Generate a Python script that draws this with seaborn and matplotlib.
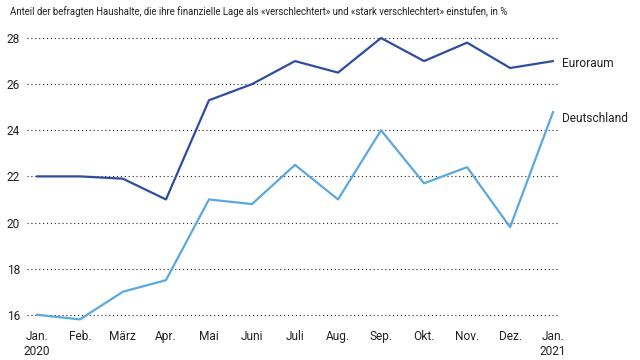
import numpy as np
import pandas as pd
import matplotlib
matplotlib.use("Agg")
import matplotlib.pyplot as plt
import seaborn as sns

months = ["Jan.\n2020", "Feb.", "März", "Apr.", "Mai", "Juni", "Juli", "Aug.", "Sep.", "Okt.", "Nov.", "Dez.", "Jan.\n2021"]
euroraum = [22.0, 22.0, 21.9, 21.0, 25.3, 26.0, 27.0, 26.5, 28.0, 27.0, 27.8, 26.7, 27.0]
deutschland = [16.0, 15.8, 17.0, 17.5, 21.0, 20.8, 22.5, 21.0, 24.0, 21.7, 22.4, 19.8, 24.8]
yticks = [16, 18, 20, 22, 24, 26, 28]
title = "Anteil der befragten Haushalte, die ihre finanzielle Lage als «verschlechtert» und «stark verschlechtert» einstufen, in %"

sns.set_theme(style="white")
plt.rcParams["font.family"] = ["Roboto", "DejaVu Sans"]

df = pd.DataFrame({
    "x": list(range(len(months))) * 2,
    "value": euroraum + deutschland,
    "series": ["Euroraum"] * len(months) + ["Deutschland"] * len(months),
})

fig = plt.figure(figsize=(6.4, 3.6), dpi=100)
ax = fig.add_axes([27/640, 36/360, (560-27)/640, (326.6-36)/360])
sns.lineplot(data=df, x="x", y="value", hue="series",
             palette={"Euroraum": "#2f4da0", "Deutschland": "#5ba8e0"},
             linewidth=1.6, legend=False, ax=ax)

fs = 8.6
ax.set_xlim(-0.23, 12.16)
ax.set_ylim(15.6, 28.2)
ax.set_yticks(yticks)
ax.set_yticklabels([str(v) for v in yticks])
ax.set_xticks(range(len(months)))
ax.set_xticklabels(months)
ax.yaxis.grid(True, linestyle=(0, (1, 2.5)), color="#222222", linewidth=0.8)
ax.xaxis.grid(False)
for s in ax.spines.values():
    s.set_visible(False)
ax.tick_params(axis="both", length=0, labelsize=fs, colors="#222222")
ax.tick_params(axis="y", pad=5)
ax.tick_params(axis="x", pad=4)
for lbl in ax.get_xticklabels():
    lbl.set_verticalalignment("top")
    lbl.set_linespacing(1.25)
ax.set_xlabel("")
ax.set_ylabel("")

ax.text(12.2, euroraum[-1] - 0.1, "Euroraum", fontsize=fs, va="center", ha="left", color="#222222", clip_on=False)
ax.text(12.2, deutschland[-1] - 0.3, "Deutschland", fontsize=fs, va="center", ha="left", color="#222222", clip_on=False)

fig.text(10/640, 1 - 12/360, title, fontsize=6.9, va="center", ha="left", color="#222222")

fig.savefig("out.png", dpi=100)
